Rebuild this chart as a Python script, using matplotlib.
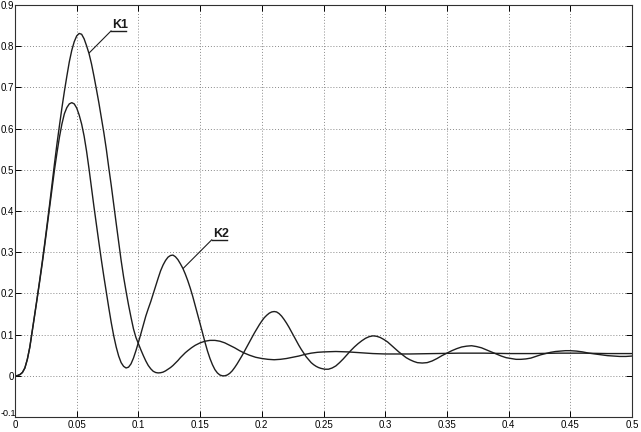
import matplotlib
matplotlib.use("Agg")
import matplotlib.pyplot as plt
from matplotlib.transforms import ScaledTranslation

# ---- data ----
k1_x = [0.000, 0.002, 0.004, 0.006, 0.008, 0.010, 0.012, 0.014, 0.016, 0.018,
        0.020, 0.022, 0.024, 0.026, 0.028, 0.030, 0.032, 0.034, 0.036, 0.038,
        0.040, 0.042, 0.044, 0.046, 0.048, 0.050, 0.052, 0.054, 0.056, 0.058,
        0.060, 0.062, 0.064, 0.066, 0.068, 0.070, 0.072, 0.074, 0.076, 0.078,
        0.080, 0.082, 0.084, 0.086, 0.088, 0.090, 0.092, 0.094, 0.096, 0.098,
        0.100, 0.102, 0.104, 0.106, 0.108, 0.110, 0.112, 0.114, 0.116, 0.118,
        0.120, 0.122, 0.124, 0.126, 0.128, 0.130, 0.132, 0.134, 0.136, 0.138,
        0.140, 0.143, 0.146, 0.150, 0.154, 0.158, 0.162, 0.166, 0.170, 0.174,
        0.178, 0.182, 0.186, 0.190, 0.195, 0.200, 0.205, 0.210, 0.215, 0.220,
        0.225, 0.230, 0.235, 0.240, 0.245, 0.250, 0.260, 0.270, 0.280, 0.290,
        0.300, 0.320, 0.340, 0.360, 0.380, 0.400, 0.420, 0.440, 0.460, 0.480,
        0.500]
k1_y = [0.000, 0.0005, 0.003, 0.008, 0.019, 0.040, 0.070, 0.110, 0.150, 0.190,
        0.232, 0.275, 0.320, 0.367, 0.415, 0.465, 0.515, 0.563, 0.607, 0.650,
        0.690, 0.727, 0.762, 0.790, 0.811, 0.825, 0.831, 0.829, 0.818, 0.801,
        0.782, 0.757, 0.727, 0.695, 0.662, 0.626, 0.590, 0.550, 0.505, 0.462,
        0.416, 0.370, 0.325, 0.280, 0.240, 0.205, 0.172, 0.142, 0.114, 0.093,
        0.078, 0.063, 0.049, 0.036, 0.025, 0.017, 0.011, 0.008, 0.007, 0.0075,
        0.009, 0.012, 0.016, 0.020, 0.025, 0.031, 0.037, 0.044, 0.050, 0.056,
        0.061, 0.068, 0.074, 0.080, 0.084, 0.086, 0.086, 0.084, 0.080, 0.074,
        0.068, 0.061, 0.055, 0.050, 0.045, 0.042, 0.040, 0.039, 0.040, 0.042,
        0.045, 0.048, 0.052, 0.055, 0.057, 0.058, 0.059, 0.058, 0.056, 0.054,
        0.053, 0.053, 0.054, 0.055, 0.055, 0.054, 0.054, 0.055, 0.055, 0.054,
        0.054]

k2_x = [0.000, 0.002, 0.004, 0.006, 0.008, 0.010, 0.012, 0.014, 0.016, 0.018,
        0.020, 0.022, 0.024, 0.026, 0.028, 0.030, 0.032, 0.034, 0.036, 0.038,
        0.040, 0.042, 0.044, 0.046, 0.048, 0.050, 0.052, 0.054, 0.056, 0.058,
        0.060, 0.062, 0.064, 0.066, 0.068, 0.070, 0.072, 0.074, 0.076, 0.078,
        0.080, 0.082, 0.084, 0.086, 0.088, 0.090, 0.092, 0.094, 0.096, 0.098,
        0.100, 0.102, 0.104, 0.106, 0.108, 0.110, 0.112, 0.114, 0.116, 0.118,
        0.120, 0.122, 0.124, 0.126, 0.128, 0.130, 0.132, 0.134, 0.136, 0.138,
        0.140, 0.142, 0.144, 0.146, 0.148, 0.150, 0.152, 0.154, 0.156, 0.158,
        0.160, 0.162, 0.164, 0.166, 0.168, 0.170, 0.172, 0.174, 0.176, 0.178,
        0.180, 0.182, 0.184, 0.186, 0.188, 0.190, 0.192, 0.194, 0.196, 0.198,
        0.200, 0.202, 0.204, 0.206, 0.208, 0.210, 0.212, 0.214, 0.216, 0.218,
        0.220, 0.222, 0.224, 0.226, 0.228, 0.230, 0.232, 0.234, 0.236, 0.238,
        0.240, 0.242, 0.244, 0.246, 0.248, 0.251, 0.254, 0.257, 0.260, 0.263,
        0.266, 0.269, 0.272, 0.275, 0.278, 0.281, 0.284, 0.287, 0.290, 0.293,
        0.296, 0.299, 0.302, 0.305, 0.308, 0.311, 0.314, 0.317, 0.320, 0.323,
        0.326, 0.330, 0.334, 0.338, 0.342, 0.346, 0.350, 0.354, 0.358, 0.362,
        0.366, 0.370, 0.374, 0.378, 0.382, 0.386, 0.390, 0.394, 0.398, 0.402,
        0.406, 0.410, 0.414, 0.418, 0.422, 0.426, 0.430, 0.434, 0.438, 0.442,
        0.446, 0.450, 0.455, 0.460, 0.465, 0.470, 0.475, 0.480, 0.485, 0.490,
        0.495, 0.500]
k2_y = [0.000, 0.0005, 0.003, 0.008, 0.019, 0.040, 0.069, 0.108, 0.148, 0.188,
        0.229, 0.271, 0.315, 0.361, 0.408, 0.455, 0.500, 0.541, 0.579, 0.611,
        0.636, 0.651, 0.660, 0.663, 0.660, 0.650, 0.633, 0.611, 0.582, 0.545,
        0.502, 0.455, 0.410, 0.366, 0.323, 0.281, 0.241, 0.203, 0.165, 0.129,
        0.097, 0.070, 0.048, 0.032, 0.023, 0.019, 0.021, 0.029, 0.043, 0.061,
        0.081, 0.102, 0.124, 0.145, 0.163, 0.180, 0.199, 0.218, 0.237, 0.255,
        0.269, 0.280, 0.288, 0.292, 0.293, 0.289, 0.282, 0.272, 0.261, 0.247,
        0.231, 0.213, 0.193, 0.171, 0.149, 0.127, 0.104, 0.081, 0.060, 0.042,
        0.027, 0.015, 0.007, 0.002, 0.000, 0.000, 0.002, 0.006, 0.012, 0.020,
        0.029, 0.039, 0.049, 0.060, 0.071, 0.082, 0.093, 0.104, 0.114, 0.124,
        0.133, 0.141, 0.147, 0.152, 0.155, 0.156, 0.155, 0.151, 0.145, 0.137,
        0.128, 0.118, 0.107, 0.096, 0.085, 0.074, 0.064, 0.055, 0.046, 0.039,
        0.032, 0.027, 0.023, 0.020, 0.018, 0.016, 0.016, 0.019, 0.024, 0.032,
        0.041, 0.051, 0.061, 0.070, 0.078, 0.085, 0.091, 0.095, 0.097, 0.096,
        0.093, 0.088, 0.082, 0.074, 0.066, 0.058, 0.051, 0.044, 0.039, 0.035,
        0.032, 0.031, 0.032, 0.036, 0.042, 0.049, 0.055, 0.061, 0.066, 0.070,
        0.072, 0.073, 0.071, 0.068, 0.063, 0.058, 0.053, 0.048, 0.044, 0.042,
        0.040, 0.040, 0.041, 0.043, 0.047, 0.051, 0.054, 0.057, 0.059, 0.060,
        0.061, 0.061, 0.060, 0.058, 0.055, 0.053, 0.051, 0.049, 0.048, 0.047,
        0.047, 0.048]

x_ticks = [0, 0.05, 0.1, 0.15, 0.2, 0.25, 0.3, 0.35, 0.4, 0.45, 0.5]
x_tick_labels = ["0", "0.05", "0.1", "0.15", "0.2", "0.25", "0.3", "0.35", "0.4", "0.45", "0.5"]
y_ticks = [-0.1, 0, 0.1, 0.2, 0.3, 0.4, 0.5, 0.6, 0.7, 0.8, 0.9]
y_tick_labels = ["-0.1", "0", "0.1", "0.2", "0.3", "0.4", "0.5", "0.6", "0.7", "0.8", "0.9"]

label_names = ["K1", "K2"]

# ---- figure ----
plt.rcParams['font.family'] = ['Liberation Sans Narrow', 'Liberation Sans', 'DejaVu Sans']
fig = plt.figure(figsize=(6.41, 4.32), dpi=100)
ax = fig.add_axes([0.0234, 0.0347, 0.9626, 0.9537])

line_color = '#1e1e1e'
ax.plot(k1_x, k1_y, color=line_color, lw=1.0)
ax.plot(k2_x, k2_y, color=line_color, lw=1.0)

ax.set_xlim(0, 0.5)
ax.set_ylim(-0.1, 0.9)
ax.set_xticks(x_ticks)
ax.set_xticklabels(x_tick_labels)
ax.set_yticks(y_ticks)
ax.set_yticklabels(y_tick_labels)

ax.grid(True, color='#8a8a8a', linestyle=(0, (1, 2)), lw=0.7)
ax.tick_params(direction='in', length=4, width=0.7, labelsize=7, pad=2,
               top=True, right=True, colors='black')
ax.tick_params(axis='y', pad=0.5)
for s in ax.spines.values():
    s.set_linewidth(0.8)
    s.set_color('#303030')

# the lowest y label sits at the very edge: lift it a little and keep it inside the figure
lowest = ax.get_yticklabels()[0]
lowest.set_fontsize(6.5)
lowest.set_transform(lowest.get_transform() + ScaledTranslation(1.5 / 72, 3 / 72, fig.dpi_scale_trans))

# Labels with leader lines and underline
lab_pos = [(0.0778, 0.837), (0.1594, 0.330)]
lab_tgt = [(0.0602, 0.784), (0.1364, 0.261)]
for name, (tx, ty), (px, py) in zip(label_names, lab_pos, lab_tgt):
    ax.text(tx + 0.0008, ty + 0.006, name, fontsize=9, fontweight='bold',
            family=['Liberation Sans', 'DejaVu Sans'], ha='left', va='baseline', color='#1a1a1a')
    ax.plot([px, tx], [py, ty], color=line_color, lw=0.8)
    ax.plot([tx, tx + 0.0125], [ty, ty], color=line_color, lw=1.0)

fig.savefig('out.png', dpi=100)
